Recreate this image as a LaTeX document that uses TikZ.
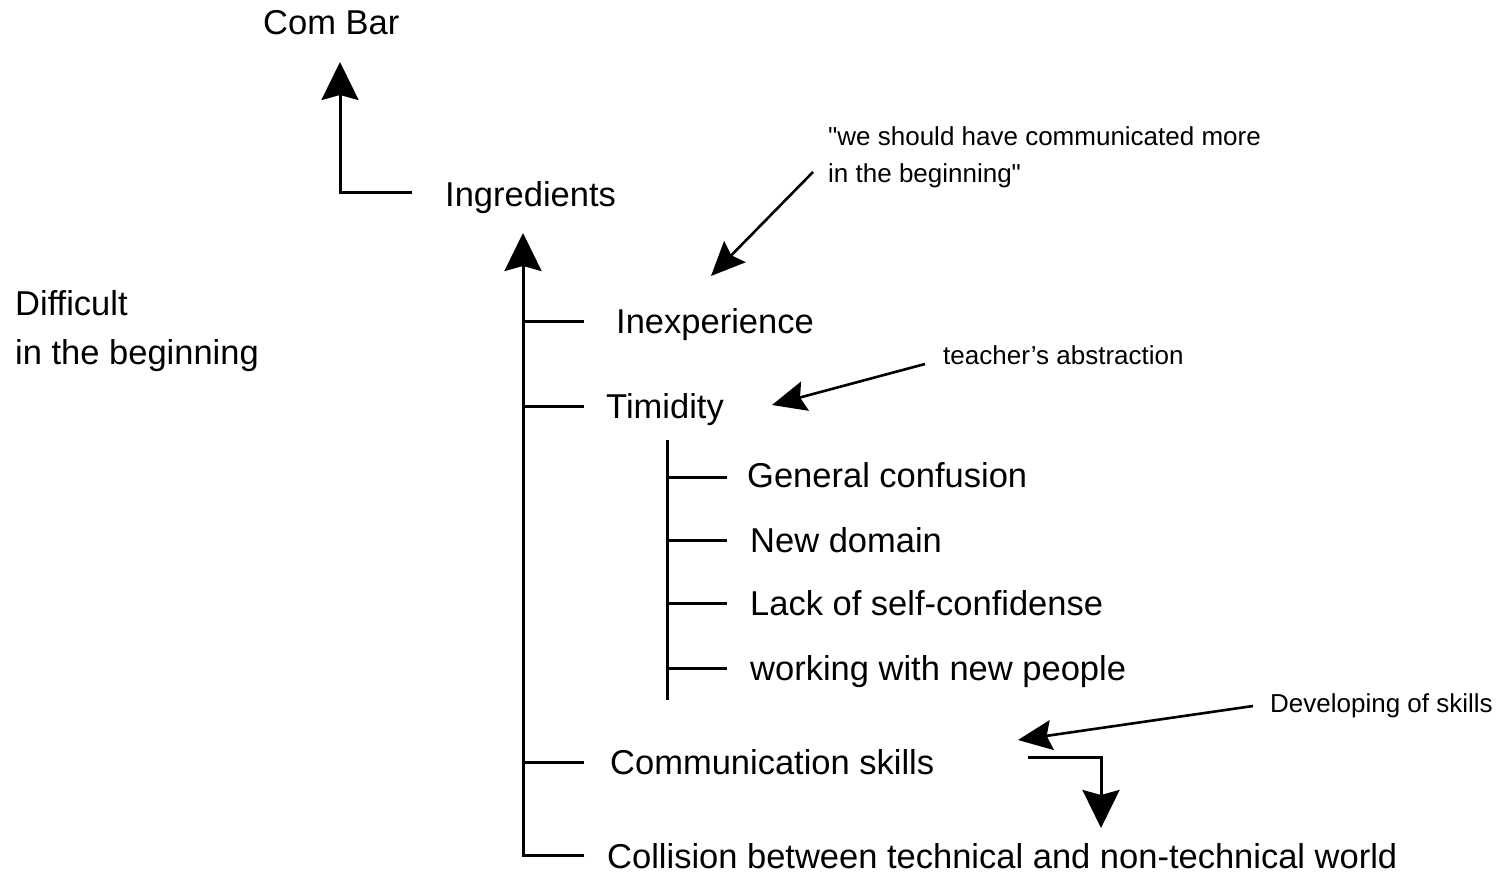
\documentclass[tikz,border=0pt]{standalone}
\usepackage{fontspec}
\setmainfont{Liberation Sans}[Ligatures=TeXOff]
\usetikzlibrary{arrows.meta,calc}

\tikzset{
  lbl/.style={anchor=base west, inner sep=0pt, font=\fontsize{34.5}{40}\selectfont},
  note/.style={anchor=base west, inner sep=0pt, font=\fontsize{26}{37}\selectfont, align=left},
  wire/.style={line width=3pt},
  thin wire/.style={line width=2.6pt},
  bigtip/.style={-{Stealth[length=38pt,width=37pt,inset=5pt]}},
  smalltip/.style={-{Stealth[length=34pt,width=30pt,inset=5pt]}},
}

\begin{document}
\begin{tikzpicture}[x=1pt,y=-1pt]
\path[use as bounding box] (0,0) rectangle (1498,874);

% labels
\node[lbl] (combar) at (263,35) {Com Bar};
\node[lbl] (ingr)   at (445,207) {Ingredients};
\node[lbl] (diff)   at (15,316) {Difficult};
\node[lbl] (begin)  at (15,364) {in the beginning};
\node[lbl] (inexp)  at (616,334) {Inexperience};
\node[lbl] (timid)  at (606,418) {Timidity};
\node[lbl] (conf)   at (747,487) {General confusion};
\node[lbl] (domain) at (750,552) {New domain};
\node[lbl] (lack)   at (750,615) {Lack of self-confidense};
\node[lbl] (people) at (750,680) {working with new people};
\node[lbl] (comm)   at (610,774) {Communication skills};
\node[lbl] (coll)   at (607,868) {Collision between technical and non-technical world};

% annotations (a two-line node sits on the baseline of its last line)
\node[note] (quote)   at (828,183) {"we should have communicated more\\in the beginning"};
\node[note] (teacher) at (943,364) {teacher’s abstraction};
\node[note] (develop) at (1270,712) {Developing of skills};

% joints of the connectors
\coordinate (ingr-in)   at (412,193);
\coordinate (cb-tip)    at (340,62);
\coordinate (trunk-top) at (523,233);
\coordinate (trunk-bot) at (523,855);
\coordinate (tick-end)  at (584,0);
\coordinate (sub-top)   at (667,440);
\coordinate (sub-bot)   at (667,700);
\coordinate (subtick)   at (727,0);
\coordinate (comm-out)  at (1028,757);
\coordinate (comm-tip)  at (1101,828);
\coordinate (q-from)    at (813,172);
\coordinate (q-tip)     at (711,276);
\coordinate (t-from)    at (925,364);
\coordinate (t-tip)     at (772,405);
\coordinate (d-from)    at (1253,706);
\coordinate (d-tip)     at (1018,740);

% Ingredients -> Com Bar
\draw[wire,bigtip] (ingr-in) -| (cb-tip);

% main trunk up to Ingredients
\draw[wire,bigtip] ($(coll.base west)+(-23,-13)$) -- (trunk-bot) -- (trunk-top);
\foreach \n/\dy in {inexp/-12, timid/-12, comm/-12}
  \draw[wire] ($(\n.base west -| trunk-top)+(0,\dy)$) -- ($(\n.base west -| tick-end)+(0,\dy)$);

% sub trunk under Timidity
\draw[wire] (sub-top) -- (sub-bot);
\foreach \n/\dy in {conf/-10, domain/-12, lack/-12, people/-12}
  \draw[wire] ($(\n.base west -| sub-top)+(0,\dy)$) -- ($(\n.base west -| subtick)+(0,\dy)$);

% Communication skills -> Collision
\draw[wire,bigtip] (comm-out) -| (comm-tip);

% annotation pointers
\draw[thin wire,smalltip] (q-from) -- (q-tip);
\draw[thin wire,smalltip] (t-from) -- (t-tip);
\draw[thin wire,smalltip] (d-from) -- (d-tip);
\end{tikzpicture}
\end{document}
